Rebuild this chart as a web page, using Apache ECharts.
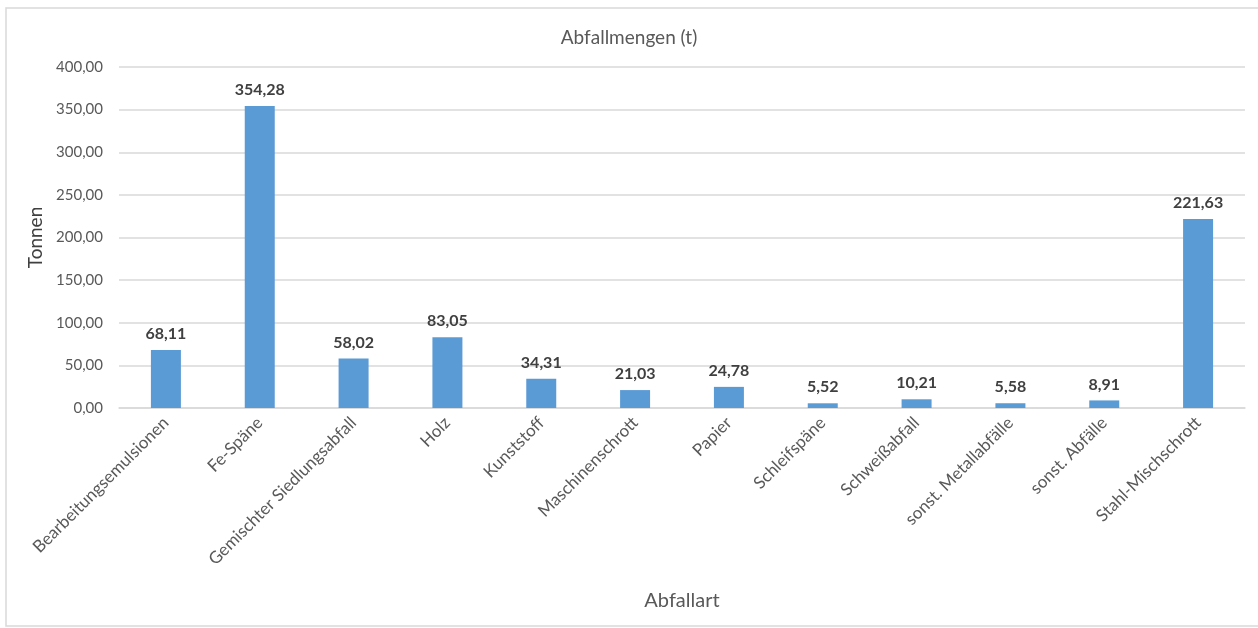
<!DOCTYPE html>
<html>
<head>
<meta charset="utf-8">
<script src="https://cdn.jsdelivr.net/npm/echarts@6/dist/echarts.min.js"></script>
<style>
  html, body { margin: 0; padding: 0; background: #fff; }
  #chart { width: 1258px; height: 628px; }
</style>
</head>
<body>
<div id="chart"></div>
<script>
const categories = [
  'Bearbeitungsemulsionen', 'Fe-Späne', 'Gemischter Siedlungsabfall', 'Holz',
  'Kunststoff', 'Maschinenschrott', 'Papier', 'Schleifspäne', 'Schweißabfall',
  'sonst. Metallabfälle', 'sonst. Abfälle', 'Stahl-Mischschrott'
]
const tonnen = [68.11, 354.28, 58.02, 83.05, 34.31, 21.03, 24.78, 5.52, 10.21, 5.58, 8.91, 221.63]

const fmt = (v) => v.toFixed(2).replace('.', ',')
const font = 'Lato, "Open Sans", sans-serif'

const chart = echarts.init(document.getElementById('chart'))
chart.setOption({
  backgroundColor: '#fff',
  animation: false,
  graphic: [{
    type: 'rect',
    shape: { x: 6, y: 8, width: 1260, height: 618 },
    style: { fill: 'none', stroke: '#d9d9d9', lineWidth: 1.5 },
    silent: true,
  }],
  title: {
    text: 'Abfallmengen (t)',
    left: 'center',
    top: 23,
    textStyle: { fontFamily: font, fontSize: 19, fontWeight: 'normal', color: '#595959' },
  },
  grid: { left: 119, right: 13, top: 67, bottom: 220 },
  xAxis: {
    type: 'category',
    data: categories,
    name: 'Abfallart',
    nameLocation: 'middle',
    nameGap: 183,
    nameTextStyle: { fontFamily: font, fontSize: 20, color: '#595959' },
    axisLine: { lineStyle: { color: '#d9d9d9', width: 1.5 } },
    axisTick: { show: false },
    axisLabel: { rotate: 45, interval: 0, margin: 12, fontFamily: font, fontSize: 17, color: '#595959' },
  },
  yAxis: {
    type: 'value',
    min: 0,
    max: 400,
    interval: 50,
    name: 'Tonnen',
    nameLocation: 'middle',
    nameGap: 72,
    nameTextStyle: { fontFamily: font, fontSize: 19, color: '#404040' },
    axisLine: { show: false },
    axisTick: { show: false },
    axisLabel: { formatter: fmt, margin: 16, fontFamily: font, fontSize: 15, color: '#595959' },
    splitLine: { lineStyle: { color: '#d9d9d9', width: 1.5 } },
  },
  series: [{
    type: 'bar',
    data: tonnen,
    barWidth: 30,
    itemStyle: { color: '#5b9bd5' },
    label: {
      show: true,
      position: 'top',
      distance: 8,
      formatter: (p) => fmt(p.value),
      fontFamily: font,
      fontSize: 16,
      fontWeight: 'bold',
      color: '#404040',
    },
  }],
})
</script>
</body>
</html>
